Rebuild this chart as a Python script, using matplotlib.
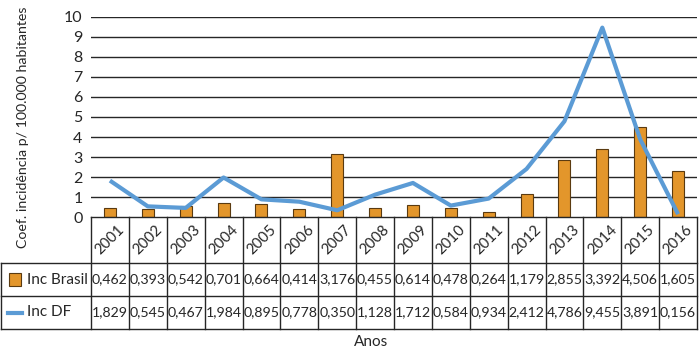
import matplotlib
matplotlib.use("Agg")
import matplotlib.pyplot as plt
import matplotlib.transforms as mtransforms
from matplotlib.patches import Rectangle
from matplotlib.lines import Line2D

plt.rcParams['font.family'] = ['Lato', 'DejaVu Sans']

years = ["2001", "2002", "2003", "2004", "2005", "2006", "2007", "2008",
         "2009", "2010", "2011", "2012", "2013", "2014", "2015", "2016"]
inc_brasil = [0.462, 0.393, 0.542, 0.701, 0.664, 0.414, 3.176, 0.455,
              0.614, 0.478, 0.264, 1.179, 2.855, 3.392, 4.506, 2.31]
inc_df = [1.829, 0.545, 0.467, 1.984, 0.895, 0.778, 0.350, 1.128,
          1.712, 0.584, 0.934, 2.412, 4.786, 9.455, 3.891, 0.156]
brasil_labels = ["0,462", "0,393", "0,542", "0,701", "0,664", "0,414", "3,176", "0,455",
                 "0,614", "0,478", "0,264", "1,179", "2,855", "3,392", "4,506", "1,605"]
df_labels = ["1,829", "0,545", "0,467", "1,984", "0,895", "0,778", "0,350", "1,128",
             "1,712", "0,584", "0,934", "2,412", "4,786", "9,455", "3,891", "0,156"]
series_names = ["Inc Brasil", "Inc DF"]
y_ticks = list(range(0, 11))

W, H = 700, 352
fig = plt.figure(figsize=(W / 100, H / 100), dpi=100)

def fy(py):
    return 1 - py / H

def fx(px):
    return px / W

left_px, right_px, top_px, zero_px = 91, 697, 16.7, 217.3
ax = fig.add_axes([fx(left_px), fy(zero_px), fx(right_px) - fx(left_px), fy(top_px) - fy(zero_px)])

bar_color = '#E3962B'
line_color = '#5B9BD5'
text_color = '#262626'
x = list(range(len(years)))

ax.bar(x, inc_brasil, width=0.32, color=bar_color, edgecolor='#5a3a10', linewidth=0.8, zorder=3)
ax.plot(x, inc_df, color=line_color, linewidth=3, zorder=4, solid_capstyle='butt')

ax.set_xlim(-0.5, len(years) - 0.5)
ax.set_ylim(0, 10)
ax.set_yticks(y_ticks)
ax.set_yticklabels([str(t) for t in y_ticks], fontsize=11.5)
ax.set_xticks([])
for t in y_ticks[1:]:
    ax.axhline(t, color=text_color, linewidth=1, zorder=1)
for s in ['top', 'right', 'left', 'bottom']:
    ax.spines[s].set_visible(False)
ax.tick_params(axis='y', length=0, pad=6, colors=text_color)

fig.text(fx(23), fy(127), "Coef. incidência p/ 100.000 habitantes", rotation=90,
         ha='center', va='center', fontsize=10.2, color=text_color)

# table
bt = mtransforms.blended_transform_factory(ax.transData, fig.transFigure)
lc = text_color
lw = 1.0
y0, y1, y2, y3 = fy(217.3), fy(263), fy(296), fy(329)
n = len(years)
fig.add_artist(Line2D([fx(left_px), fx(right_px)], [y0, y0], color=lc, lw=lw))
for yy in (y1, y2, y3):
    fig.add_artist(Line2D([fx(0.5), fx(right_px)], [yy, yy], color=lc, lw=lw))
for i in range(n + 1):
    xx = i - 0.5
    fig.add_artist(Line2D([xx, xx], [y0, y3], color=lc, lw=lw, transform=bt))
fig.add_artist(Line2D([fx(0.5), fx(0.5)], [y1, y3], color=lc, lw=lw))

for i in range(n):
    fig.text(i, (y0 + y1) / 2, years[i], rotation=45, ha='center', va='center',
             fontsize=10.8, color=text_color, transform=bt)
    fig.text(i, (y1 + y2) / 2, brasil_labels[i], ha='center', va='center',
             fontsize=10.2, color=text_color, transform=bt)
    fig.text(i, (y2 + y3) / 2, df_labels[i], ha='center', va='center',
             fontsize=10.2, color=text_color, transform=bt)

fig.add_artist(Rectangle((fx(9), fy(286)), fx(12), fy(273) - fy(286), facecolor=bar_color,
                         edgecolor='#5a3a10', lw=0.8, transform=fig.transFigure))
fig.add_artist(Line2D([fx(8), fx(22)], [fy(313), fy(313)], color=line_color, lw=3))
fig.text(fx(27), (y1 + y2) / 2, series_names[0], ha='left', va='center', fontsize=11, color=text_color)
fig.text(fx(27), (y2 + y3) / 2, series_names[1], ha='left', va='center', fontsize=11, color=text_color)

fig.text(fx(371), fy(342), "Anos", ha='center', va='center', fontsize=11, color=text_color)

fig.savefig("out.png", dpi=100)
